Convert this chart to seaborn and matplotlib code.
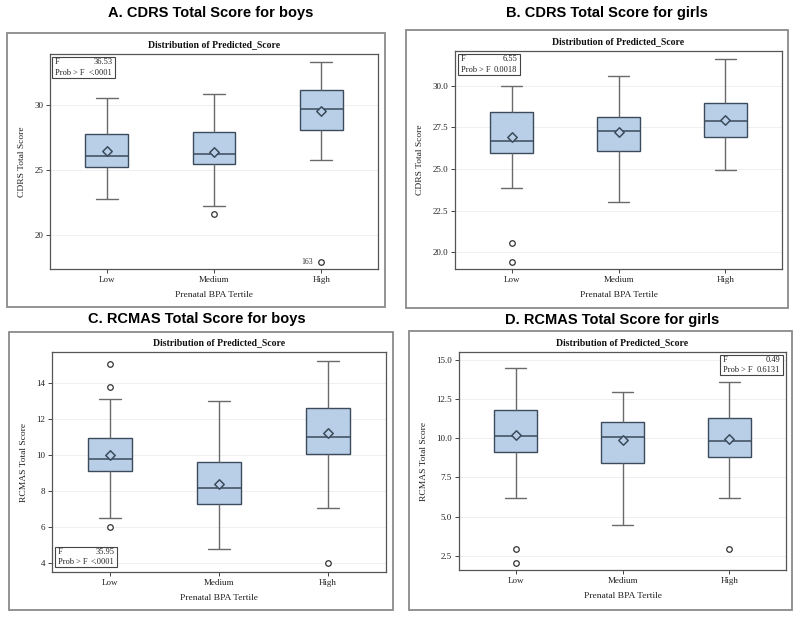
import numpy as np
import pandas as pd
import matplotlib
matplotlib.use("Agg")
import matplotlib.pyplot as plt
from matplotlib.patches import Rectangle
import seaborn as sns

# categories
tertiles = ["Low", "Medium", "High"]

# five-number summaries per tertile: whisker low, Q1, median, Q3, whisker high
cdrs_boys_box = [[22.8, 25.2, 26.1, 27.75, 30.5],
                 [22.2, 25.45, 26.25, 27.9, 30.8],
                 [25.8, 28.05, 29.65, 31.15, 33.3]]
cdrs_boys_mean = [26.45, 26.4, 29.55]
cdrs_boys_out_cat = ["Medium", "High"]
cdrs_boys_out_val = [21.65, 17.95]

cdrs_girls_box = [[23.85, 25.95, 26.7, 28.45, 30.0],
                  [23.0, 26.1, 27.3, 28.15, 30.6],
                  [24.95, 26.95, 27.9, 28.95, 31.6]]
cdrs_girls_mean = [26.9, 27.2, 27.95]
cdrs_girls_out_cat = ["Low", "Low"]
cdrs_girls_out_val = [20.55, 19.45]

rcmas_boys_box = [[6.5, 9.15, 9.8, 10.95, 13.15],
                  [4.8, 7.3, 8.2, 9.65, 13.0],
                  [7.1, 10.1, 11.0, 12.65, 15.25]]
rcmas_boys_mean = [10.0, 8.4, 11.25]
rcmas_boys_out_cat = ["Low", "Low", "Low", "High"]
rcmas_boys_out_val = [15.1, 13.8, 6.0, 4.0]

rcmas_girls_box = [[6.2, 9.1, 10.15, 11.8, 14.5],
                   [4.45, 8.4, 10.05, 11.05, 12.95],
                   [6.15, 8.8, 9.8, 11.3, 13.55]]
rcmas_girls_mean = [10.2, 9.9, 9.95]
rcmas_girls_out_cat = ["Low", "Low", "High"]
rcmas_girls_out_val = [2.9, 2.05, 2.9]

# ANOVA results
stat_f = ["36.53", "6.55", "35.95", "0.49"]
stat_p = ["<.0001", "0.0018", "<.0001", "0.6131"]

titles = ["A. CDRS Total Score for boys", "B. CDRS Total Score for girls",
          "C. RCMAS Total Score for boys", "D. RCMAS Total Score for girls"]
ylabels = ["CDRS Total Score", "CDRS Total Score", "RCMAS Total Score", "RCMAS Total Score"]

W, H = 800, 618
BOX_FILL = "#B9CFE8"
BOX_EDGE = "#3B4B5C"
WHISK = "#6A6A6A"

sns.set_style("ticks")
plt.rcParams["font.family"] = ["Liberation Serif", "DejaVu Serif"]


def fig_rect(left, top, right, bottom):
    return [left / W, 1 - bottom / H, (right - left) / W, (bottom - top) / H]


def stat_box(ax, f_txt, p_txt, x0, y0, x1, y1):
    ax.add_patch(Rectangle((x0, y0), x1 - x0, y1 - y0, transform=ax.transAxes,
                           fill=True, facecolor="white", edgecolor="#444444",
                           lw=0.8, zorder=6))
    ym = (y0 + y1) / 2
    pad = 0.008
    kw = dict(transform=ax.transAxes, fontsize=6, color="#222222", zorder=7, va="center")
    ax.text(x0 + pad, (y1 + ym) / 2, "F", ha="left", **kw)
    ax.text(x1 - pad, (y1 + ym) / 2, f_txt, ha="right", **kw)
    ax.text(x0 + pad, (y0 + ym) / 2, "Prob > F", ha="left", **kw)
    ax.text(x1 - pad, (y0 + ym) / 2, p_txt, ha="right", **kw)


panels = [
    dict(box=cdrs_boys_box, mean=cdrs_boys_mean, oc=cdrs_boys_out_cat, ov=cdrs_boys_out_val,
         ax=(50, 54, 378, 269), frame=(7, 33, 385, 307), tx=211, ty=13,
         ylim=(17.4, 33.9), yticks=[20, 25, 30], fmt="{:.0f}",
         sbox=(0.006, 0.888, 0.198, 0.986)),
    dict(box=cdrs_girls_box, mean=cdrs_girls_mean, oc=cdrs_girls_out_cat, ov=cdrs_girls_out_val,
         ax=(455, 51, 782, 269), frame=(406, 30, 788, 308), tx=607, ty=13,
         ylim=(19.0, 32.08), yticks=[20, 22.5, 25, 27.5, 30], fmt="{:.1f}",
         sbox=(0.009, 0.89, 0.199, 0.986)),
    dict(box=rcmas_boys_box, mean=rcmas_boys_mean, oc=rcmas_boys_out_cat, ov=rcmas_boys_out_val,
         ax=(52, 352, 386, 572), frame=(9, 332, 393, 610), tx=197, ty=319,
         ylim=(3.52, 15.74), yticks=[4, 6, 8, 10, 12, 14], fmt="{:.0f}",
         sbox=(0.009, 0.023, 0.195, 0.114)),
    dict(box=rcmas_girls_box, mean=rcmas_girls_mean, oc=rcmas_girls_out_cat, ov=rcmas_girls_out_val,
         ax=(459, 352, 786, 570), frame=(409, 331, 792, 610), tx=612, ty=320,
         ylim=(1.59, 15.49), yticks=[2.5, 5, 7.5, 10, 12.5, 15], fmt="{:.1f}",
         sbox=(0.798, 0.894, 0.991, 0.986)),
]

fig = plt.figure(figsize=(8, 6.18), dpi=100)

for i, p in enumerate(panels):
    l, t, r, b = p["ax"]
    ax = fig.add_axes(fig_rect(l, t, r, b))

    fl, ft, fr, fb = p["frame"]
    fig.patches.append(Rectangle((fl / W, 1 - fb / H), (fr - fl) / W, (fb - ft) / H,
                                 transform=fig.transFigure, fill=False,
                                 edgecolor="#8A8A8A", lw=1.3))
    fig.text(p["tx"] / W, 1 - p["ty"] / H, titles[i], ha="center", va="center",
             fontsize=10.5, fontweight="bold", color="black",
             family=["Liberation Sans", "DejaVu Sans"])
    fig.text((l + r) / 2 / W, 1 - (t - 9) / H, "Distribution of Predicted_Score",
             ha="center", va="center", fontsize=7, fontweight="bold", color="#111111")

    df = pd.DataFrame({
        "tertile": np.repeat(tertiles, 5),
        "score": np.concatenate(p["box"]),
    })
    sns.boxplot(data=df, x="tertile", y="score", order=tertiles, whis=np.inf,
                width=0.4, color=BOX_FILL, saturation=1, linewidth=1.0, ax=ax,
                boxprops=dict(edgecolor=BOX_EDGE, facecolor=BOX_FILL),
                medianprops=dict(color=BOX_EDGE, lw=1.1),
                whiskerprops=dict(color=WHISK, lw=1.0),
                capprops=dict(color=WHISK, lw=1.0))
    sns.stripplot(x=tertiles, y=p["mean"], order=tertiles, jitter=False, marker="D",
                  size=4.8, color=BOX_FILL, edgecolor=BOX_EDGE, linewidth=1.1,
                  zorder=5, ax=ax)
    sns.stripplot(x=p["oc"], y=p["ov"], order=tertiles, jitter=False, marker="o",
                  size=4, color="white", edgecolor="#333333", linewidth=0.9,
                  zorder=5, ax=ax)

    if i == 0:
        ax.text(2 - 0.08, cdrs_boys_out_val[1], "163", ha="right", va="center",
                fontsize=5.5, color="#333333")

    ax.set_xlim(-0.53, 2.53)
    ax.set_ylim(*p["ylim"])
    ax.set_yticks(p["yticks"])
    ax.set_yticklabels([p["fmt"].format(v) for v in p["yticks"]])
    ax.yaxis.grid(True, color="#EFEFEF", lw=0.7)
    ax.set_axisbelow(True)
    ax.tick_params(axis="both", labelsize=6.5, length=3, width=0.7, color="#444444",
                   labelcolor="#222222", pad=2)
    for s in ax.spines.values():
        s.set_visible(True)
        s.set_color("#555555")
        s.set_linewidth(0.9)
    ax.set_xlabel("Prenatal BPA Tertile", fontsize=6.8, color="#222222", labelpad=5)
    ax.set_ylabel(ylabels[i], fontsize=6.8, color="#222222", labelpad=6)

    stat_box(ax, stat_f[i], stat_p[i], *p["sbox"])

fig.savefig("out.png", dpi=100)
